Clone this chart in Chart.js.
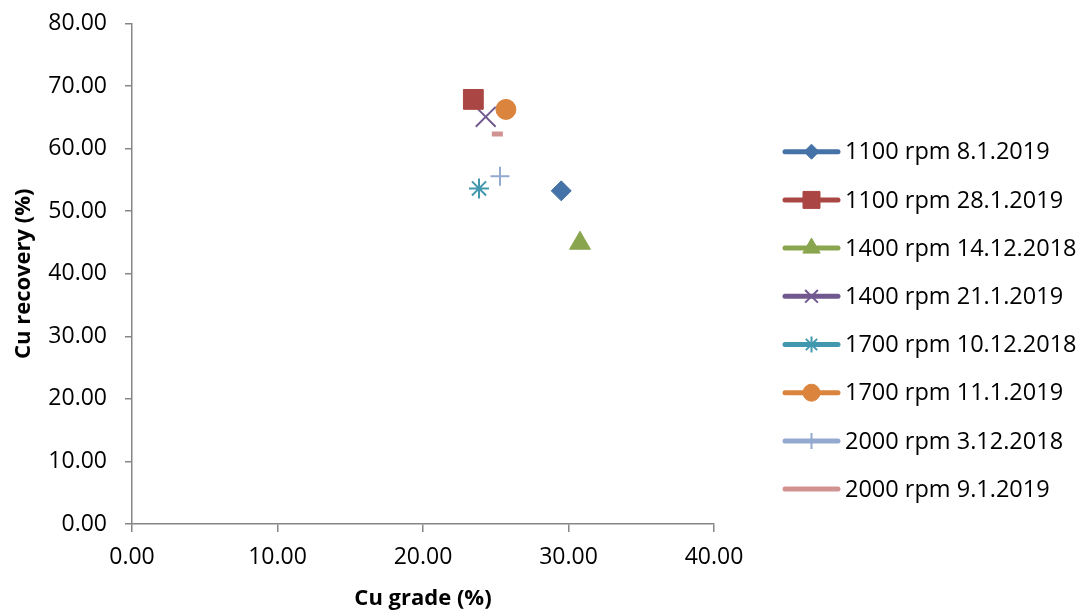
<!DOCTYPE html>
<html>
<head>
<meta charset="utf-8">
<script src="https://cdn.jsdelivr.net/npm/chart.js@4.4.1/dist/chart.umd.min.js"></script>
<style>
html,body{margin:0;padding:0;background:#ffffff;}
#wrap{width:1086px;height:612px;position:relative;}
</style>
</head>
<body>
<div id="wrap"><canvas id="c" width="1086" height="612"></canvas></div>
<script>
// ---- data ----
const seriesNames = [
  "1100 rpm 8.1.2019",
  "1100 rpm 28.1.2019",
  "1400 rpm 14.12.2018",
  "1400 rpm 21.1.2019",
  "1700 rpm 10.12.2018",
  "1700 rpm 11.1.2019",
  "2000 rpm 3.12.2018",
  "2000 rpm 9.1.2019"
];
const cuGrade    = [29.5, 23.46, 30.79, 24.31, 23.85, 25.70, 25.29, 25.11];
const cuRecovery = [53.25, 67.87, 44.88, 65.09, 53.63, 66.27, 55.60, 62.32];
const xTickValues = [0, 10, 20, 30, 40];
const yTickValues = [0, 10, 20, 30, 40, 50, 60, 70, 80];
const xAxisTitle = "Cu grade (%)";
const yAxisTitle = "Cu recovery (%)";

// ---- styles ----
const seriesColors = ["#4572A7", "#AA4643", "#89A54E", "#71588F", "#4198AF", "#DB843D", "#93A9CF", "#D19392"];
const markerStyles = ["rectRot", "rect", "triangle", "crossRot", "star", "circle", "cross", "line"];
const markerRadius = [10, 14, 12, 14, 10, 10, 9.5, 5.5];
const markerBorder = [1, 1, 1, 2, 2, 1, 2, 5];
const legendRadius = [7.5, 12, 10, 9, 8, 8.5, 8, 0];
const legendBorder = [1, 1, 1, 2, 2, 1, 2, 0];

const FONT = "'Open Sans', 'DejaVu Sans', sans-serif";

const datasets = seriesNames.map((name, i) => ({
  label: name,
  data: [{ x: cuGrade[i], y: cuRecovery[i] }],
  showLine: false,
  pointStyle: markerStyles[i],
  pointRadius: markerRadius[i],
  pointHoverRadius: markerRadius[i],
  pointBorderWidth: markerBorder[i],
  pointBackgroundColor: seriesColors[i],
  pointBorderColor: seriesColors[i],
  backgroundColor: seriesColors[i],
  borderColor: seriesColors[i]
}));

const customLegend = {
  id: 'customLegend',
  afterDraw(chart) {
    const ctx = chart.ctx;
    const x0 = 785, x1 = 838, tx = 845, yStart = 151.7, step = 48.2;
    ctx.save();
    seriesNames.forEach((name, i) => {
      const y = yStart + i * step;
      ctx.strokeStyle = seriesColors[i];
      ctx.fillStyle = seriesColors[i];
      ctx.lineWidth = 5;
      ctx.lineCap = 'round';
      ctx.beginPath();
      ctx.moveTo(x0, y);
      ctx.lineTo(x1, y);
      ctx.stroke();
      ctx.lineCap = 'butt';
      if (legendRadius[i] > 0) {
        ctx.lineWidth = legendBorder[i];
        Chart.helpers.drawPoint(ctx, {
          pointStyle: markerStyles[i],
          radius: legendRadius[i],
          rotation: 0,
          borderWidth: legendBorder[i]
        }, (x0 + x1) / 2, y);
      }
      ctx.fillStyle = '#000000';
      ctx.font = "23.5px " + FONT;
      ctx.textAlign = 'left';
      ctx.textBaseline = 'middle';
      ctx.fillText(name, tx, y + 1);
    });
    ctx.restore();
  }
};

new Chart(document.getElementById('c'), {
  type: 'scatter',
  data: { datasets },
  plugins: [customLegend],
  options: {
    responsive: false,
    animation: false,
    devicePixelRatio: 1,
    layout: { padding: { left: 0, right: 372, top: 23.5, bottom: 0 } },
    plugins: {
      legend: { display: false },
      tooltip: { enabled: false }
    },
    scales: {
      x: {
        type: 'linear',
        min: 0, max: 40,
        afterBuildTicks: s => { s.ticks = xTickValues.map(v => ({ value: v })); },
        afterFit: s => { s.height = 88; s.paddingLeft = 0; s.paddingRight = 0; },
        ticks: {
          callback: v => Number(v).toFixed(2),
          color: '#000000',
          font: { family: FONT, size: 23 },
          padding: 12,
          maxRotation: 0
        },
        grid: { drawOnChartArea: false, drawTicks: true, tickLength: 8, color: '#868686', lineWidth: 1.5 },
        border: { display: true, color: '#868686', width: 1.5 },
        title: {
          display: true, text: xAxisTitle, color: '#000000',
          font: { family: FONT, size: 22, weight: 'bold' },
          padding: { top: 0, bottom: 0 }
        }
      },
      y: {
        type: 'linear',
        min: 0, max: 80,
        afterBuildTicks: s => { s.ticks = yTickValues.map(v => ({ value: v })); },
        afterFit: s => { s.width = 132; s.paddingTop = 0; s.paddingBottom = 0; },
        ticks: {
          callback: v => Number(v).toFixed(2),
          color: '#000000',
          font: { family: FONT, size: 23 },
          padding: 18
        },
        grid: { drawOnChartArea: false, drawTicks: true, tickLength: 7, color: '#868686', lineWidth: 1.5 },
        border: { display: true, color: '#868686', width: 1.5 },
        title: {
          display: true, text: yAxisTitle, color: '#000000',
          font: { family: FONT, size: 22, weight: 'bold' },
          padding: { top: 11, bottom: 0 }
        }
      }
    }
  }
});
</script>
</body>
</html>
